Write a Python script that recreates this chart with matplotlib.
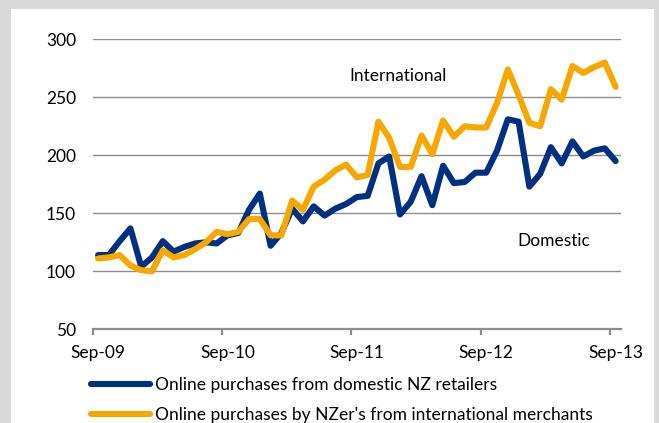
import matplotlib
matplotlib.use("Agg")
import matplotlib.pyplot as plt
import matplotlib.patches as mpatches
import numpy as np

plt.rcParams["font.family"] = ["Lato", "DejaVu Sans"]

# ── data (monthly index, Sep-09 .. Sep-13) ─────────────────────────────────────
domestic = [114, 114, 126, 137, 104, 112, 126, 117, 121, 124, 125, 124,
            131, 133, 153, 167, 122, 133, 154, 143, 156, 148, 154, 158,
            164, 165, 193, 199, 149, 160, 182, 157, 191, 176, 177, 185,
            185, 204, 231, 229, 173, 184, 207, 193, 212, 199, 204, 206,
            195]
international = [111, 112, 114, 105, 101, 100, 118, 112, 114, 119, 125, 134,
                  132, 134, 145, 145, 131, 131, 161, 153, 173, 179, 187, 192,
                  181, 183, 229, 215, 190, 190, 217, 201, 230, 216, 225, 224,
                  224, 245, 274, 252, 228, 225, 257, 248, 277, 271, 276, 280,
                  259]
tick_labels = ["Sep-09", "Sep-10", "Sep-11", "Sep-12", "Sep-13"]
y_ticks     = [50, 100, 150, 200, 250, 300]

legend_labels = ["Online purchases from domestic NZ retailers",
                 "Online purchases by NZer's from international merchants"]

BLUE   = "#00307f"
YELLOW = "#f7a800"
GRID   = "#8c8c8c"

# ── figure ────────────────────────────────────────────────────────────────────
fig = plt.figure(figsize=(6.59, 4.23), dpi=100)
fig.patch.set_facecolor("#d9d9d9")
fig.patches.append(mpatches.Rectangle((11 / 659, 0), (654 - 11) / 659, 1 - 9 / 423,
                                      transform=fig.transFigure,
                                      facecolor="white", edgecolor="none", zorder=-5))

ax = fig.add_axes([92.7 / 659, 1 - 329.3 / 423, (621 - 92.7) / 659, (329.3 - 39.3) / 423])
ax.set_facecolor("none")
ax.set_zorder(2)

x = np.arange(len(domestic))
ax.plot(x, domestic, color=BLUE, lw=4.4, solid_joinstyle="round",
        solid_capstyle="round", label=legend_labels[0], zorder=3)
ax.plot(x, international, color=YELLOW, lw=4.4, solid_joinstyle="round",
        solid_capstyle="round", label=legend_labels[1], zorder=3)

ax.set_xlim(-0.5, len(domestic) - 0.5)
ax.set_ylim(50, 300)

for v in y_ticks[1:]:
    ax.axhline(v, color=GRID, lw=1.0, zorder=1)

for s in ["top", "right", "left"]:
    ax.spines[s].set_visible(False)
ax.spines["bottom"].set_color(GRID)
ax.spines["bottom"].set_linewidth(1.6)

ax.set_yticks(y_ticks)
ax.tick_params(axis="y", length=0, pad=12, labelsize=12.5, labelcolor="black")

ax.set_xticks(np.arange(0, len(domestic), 12))
ax.set_xticklabels(tick_labels)
ax.set_xticks(np.arange(-0.5, len(domestic), 12), minor=True)
ax.tick_params(axis="x", which="major", length=0, pad=11, labelsize=12.5, labelcolor="black")
ax.tick_params(axis="x", which="minor", length=4, width=1.6, color=GRID)

ax.text(27.8, 268.5, "International", ha="center", va="center", fontsize=12.5)
ax.text(42.3, 125.7, "Domestic", ha="center", va="center", fontsize=12.5)

fig.legend(loc="upper left", bbox_to_anchor=(91 / 659, 1 - 377 / 423),
           frameon=False, fontsize=12.5, handlelength=3.4, handletextpad=0.3,
           labelspacing=0.8, borderpad=0, borderaxespad=0)

fig.savefig("out.png", dpi=100, facecolor=fig.get_facecolor())
